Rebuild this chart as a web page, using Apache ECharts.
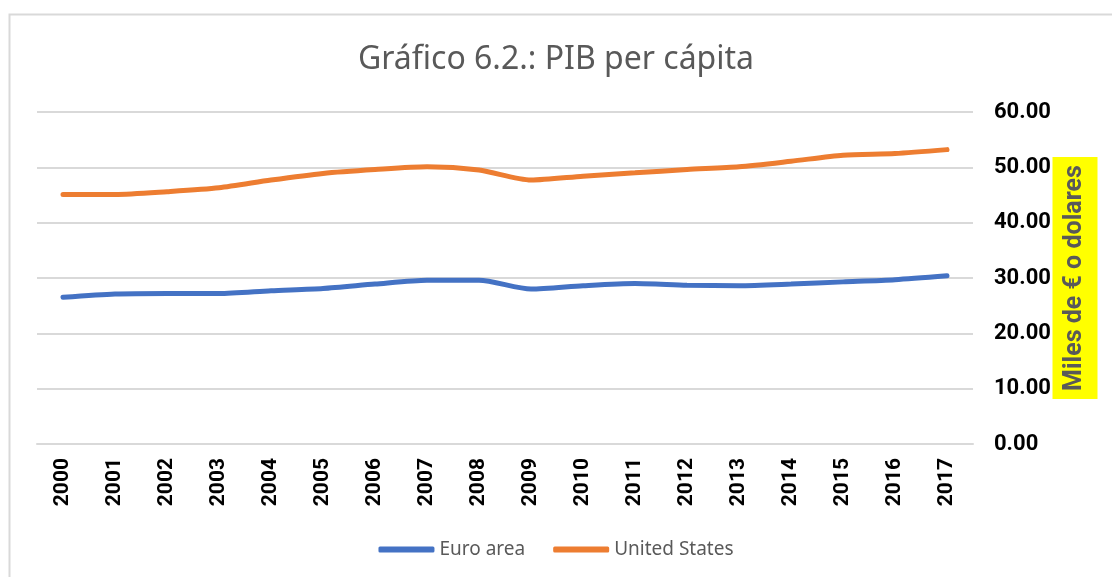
<!DOCTYPE html>
<html>
<head>
<meta charset="utf-8">
<title>PIB per cápita</title>
<script src="https://cdn.jsdelivr.net/npm/echarts@6/dist/echarts.min.js"></script>
<style>
    html, body { margin: 0; padding: 0; background: #fff; }
    #chart { width: 1112px; height: 577px; }
</style>
</head>
<body>
<div id="chart"></div>
<script>
const years = ['2000', '2001', '2002', '2003', '2004', '2005', '2006', '2007', '2008',
    '2009', '2010', '2011', '2012', '2013', '2014', '2015', '2016', '2017'];
const euroArea = [26.5, 27.1, 27.2, 27.2, 27.7, 28.1, 28.9, 29.6, 29.6,
    28.0, 28.6, 29.0, 28.7, 28.6, 28.9, 29.3, 29.7, 30.4];
const unitedStates = [45.1, 45.1, 45.6, 46.3, 47.7, 48.9, 49.6, 50.1, 49.5,
    47.7, 48.4, 49.0, 49.6, 50.1, 51.1, 52.2, 52.5, 53.2];
const yAxisTitle = 'Miles de € o dolares';

const myChart = echarts.init(document.getElementById('chart'));
const option = {
    animation: false,
    graphic: [
        // marco gris del gráfico de Excel
        {
            type: 'rect',
            left: 7, top: 12,
            shape: { width: 1200, height: 700 },
            style: { fill: 'none', stroke: '#d9d9d9', lineWidth: 2 },
            silent: true
        },
        // título del eje con fondo amarillo
        {
            type: 'text',
            x: 1075,
            y: 278,
            rotation: Math.PI / 2,
            style: {
                text: yAxisTitle,
                fill: '#595959',
                font: 'bold 25px Roboto',
                align: 'center',
                verticalAlign: 'middle',
                backgroundColor: '#ffff00',
                padding: [10, 8, 10, 8]
            },
            silent: true
        }
    ],
    title: {
        text: 'Gráfico 6.2.: PIB per cápita',
        left: 'center',
        top: 39,
        textStyle: {
            color: '#595959',
            fontFamily: 'Noto Sans',
            fontWeight: 'normal',
            fontSize: 32
        }
    },
    legend: {
        bottom: 13,
        left: 'center',
        icon: 'roundRect',
        itemWidth: 56,
        itemHeight: 6,
        itemGap: 28,
        textStyle: {
            color: '#595959',
            fontFamily: 'Noto Sans',
            fontSize: 19
        }
    },
    grid: {
        left: 37,
        right: 139,
        top: 112,
        bottom: 133
    },
    xAxis: {
        type: 'category',
        data: years,
        boundaryGap: true,
        axisLine: { lineStyle: { color: '#d9d9d9', width: 2 } },
        axisTick: { show: false },
        axisLabel: {
            rotate: 90,
            interval: 0,
            margin: 14,
            color: '#000',
            fontFamily: 'Roboto',
            fontWeight: 'bold',
            fontSize: 21
        }
    },
    yAxis: {
        type: 'value',
        position: 'right',
        min: 0,
        max: 60,
        interval: 10,
        axisLine: { show: false },
        axisTick: { show: false },
        splitLine: { lineStyle: { color: '#d9d9d9', width: 2 } },
        axisLabel: {
            margin: 21,
            color: '#000',
            fontFamily: 'Roboto',
            fontWeight: 'bold',
            fontSize: 22,
            formatter: function (v) { return v.toFixed(2); }
        }
    },
    series: [
        {
            name: 'Euro area',
            type: 'line',
            data: euroArea,
            smooth: 0.25,
            symbol: 'none',
            lineStyle: { color: '#4472c4', width: 5, cap: 'round' },
            itemStyle: { color: '#4472c4' }
        },
        {
            name: 'United States',
            type: 'line',
            data: unitedStates,
            smooth: 0.25,
            symbol: 'none',
            lineStyle: { color: '#ed7d31', width: 5, cap: 'round' },
            itemStyle: { color: '#ed7d31' }
        }
    ]
};
myChart.setOption(option);
</script>
</body>
</html>
